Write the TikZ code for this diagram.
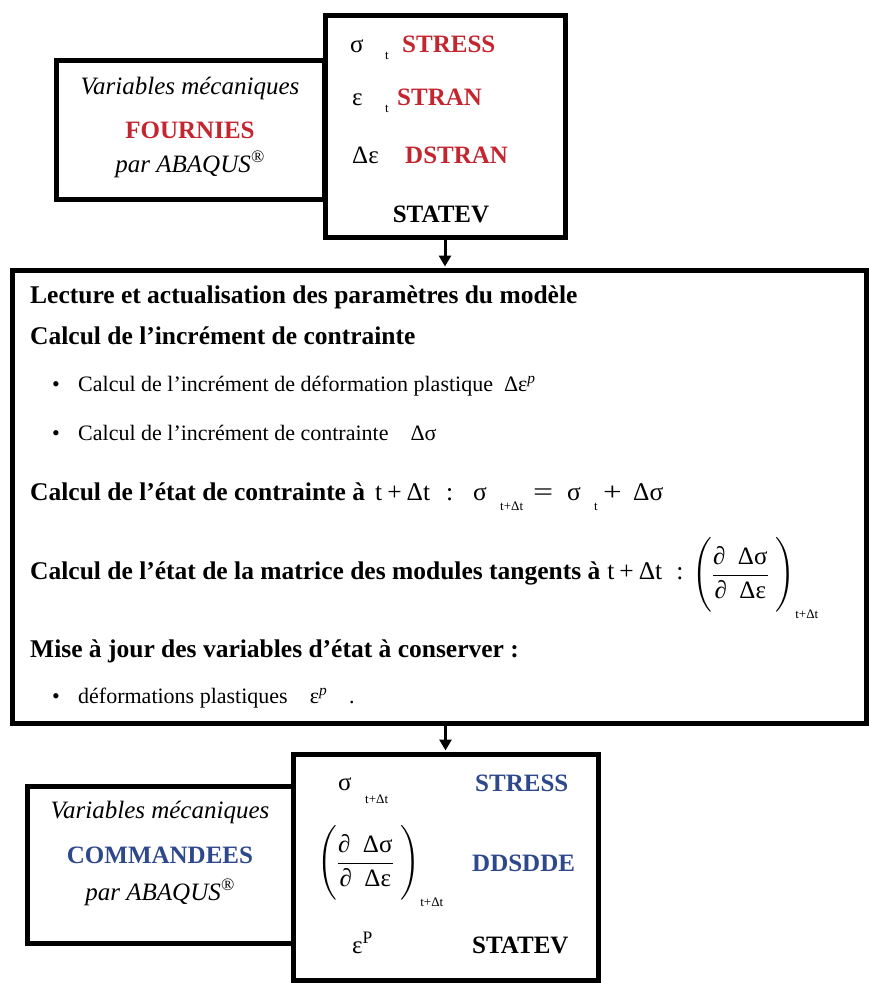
\documentclass[tikz,border=0pt]{standalone}
\usepackage{fontspec}
\usepackage{amsmath}
\usepackage{graphicx}
\setmainfont{Liberation Serif}
\usetikzlibrary{arrows.meta}
\definecolor{fred}{RGB}{196,38,48}
\definecolor{cblue}{RGB}{46,72,140}
\newcommand{\sz}[1]{\fontsize{#1}{#1}\selectfont}
\newcommand{\pfrac}{$\delimiterfactor=1000\delimitershortfall=-8pt\left(\genfrac{}{}{0.8pt}{0}{\text{\rule[-2pt]{0pt}{18pt}∂\enspace Δσ}}{\text{\rule[-2pt]{0pt}{22pt}∂\enspace Δε}}\;\right)_{\raisebox{-5pt}{\sz{13}t+Δt}}$}
\begin{document}
\begin{tikzpicture}[x=1pt,y=-1pt,
  frame/.style={draw=black, line width=5pt, inner sep=0pt},
  conn/.style={draw=black, line width=3pt, -{Triangle[length=11pt,width=12pt]}, shorten >=1pt},
  lbl/.style={anchor=base west, inner sep=0pt, font=\sz{25}},
  ctr/.style={anchor=base, inner sep=0pt, font=\sz{25}},
  redb/.style={font=\sz{25}\bfseries, text=fred},
  blueb/.style={font=\sz{25}\bfseries, text=cblue},
  hd/.style={anchor=base west, inner sep=0pt, font=\sz{25.5}\bfseries},
  bt/.style={anchor=base west, inner sep=0pt, font=\sz{22}},
  mt/.style={anchor=base west, inner sep=0pt, font=\sz{25.5}},
  sub/.style={anchor=base west, inner sep=0pt, font=\sz{13}}]
\fill[white] (0,0) rectangle (869,983);
\useasboundingbox (0,0) rectangle (869,983);

% boxes
\node[frame, minimum width=268pt, minimum height=139pt] (tl) at (190,129.5) {};
\node[frame, minimum width=240pt, minimum height=222pt] (tr) at (445,126) {};
\node[frame, minimum width=854pt, minimum height=453pt] (main) at (439,496.5) {};
\node[frame, minimum width=266pt, minimum height=157pt] (bl) at (160,864.5) {};
\node[frame, minimum width=305pt, minimum height=226pt] (br) at (445.5,867) {};

% connectors
\draw[conn] (tr.south) -- (tr.south |- main.north);
\draw[conn] (br.north |- main.south) -- (br.north);

% top-left box
\node[ctr, font=\sz{25}\itshape] (tlA) at (190,94) {Variables mécaniques};
\node[ctr, redb] (tlB) at (190,138) {FOURNIES};
\node[ctr, font=\sz{25}\itshape] (tlC) at (190,172) {par ABAQUS\textsuperscript{®}};

% top-right box
\node[lbl] (s1) at (350,52) {σ};
\node[sub] (s1t) at (385,59) {t};
\node[lbl, redb] (s1n) at (402,52) {STRESS};
\node[lbl] (e1) at (352,105) {ε};
\node[sub] (e1t) at (385,112) {t};
\node[lbl, redb] (e1n) at (397,105) {STRAN};
\node[lbl] (d1) at (352,163) {Δε};
\node[lbl, redb] (d1n) at (405,163) {DSTRAN};
\node[ctr, font=\sz{25}\bfseries] (v1n) at (441,222) {STATEV};

% main box
\node[hd] (m1) at (30,303) {Lecture et actualisation des paramètres du modèle};
\node[hd] (m2) at (30,344) {Calcul de l’incrément de contrainte};
\node[bt] (b1) at (52,391) {•};
\node[bt] (m3) at (78,391) {Calcul de l’incrément de déformation plastique\enspace Δε\textsuperscript{\itshape p}};
\node[bt] (b2) at (52,440) {•};
\node[bt] (m4) at (78,440) {Calcul de l’incrément de contrainte\quad Δσ};
\node[hd] (m5) at (30,500) {Calcul de l’état de contrainte à\hspace{10pt}{\mdseries t\hspace{5pt}+\hspace{5pt}Δt\hspace{16pt}:}};
\node[mt] (q1) at (473,500) {σ};
\node[sub] (q1t) at (500,510) {t+Δt};
\node[mt] (q2) at (533,500) {\scalebox{1.4}[1]{=}};
\node[mt] (q3) at (567,500) {σ};
\node[sub] (q3t) at (594,510) {t};
\node[mt] (q4) at (603,500) {\scalebox{1.3}[1]{+}};
\node[mt] (q5) at (633,500) {Δσ};
\node[hd] (m6) at (30,579) {Calcul de l’état de la matrice des modules tangents à\hspace{7pt}{\mdseries t\hspace{5pt}+\hspace{5pt}Δt\hspace{14pt}:}};
\node[anchor=west, inner sep=0pt, font=\sz{25}] (m6f) at (692,578) {\pfrac};
\node[hd] (m7) at (30,657) {Mise à jour des variables d’état à conserver :};
\node[bt] (b3) at (52,703) {•};
\node[bt] (m8) at (78,703) {déformations plastiques\quad ε\textsuperscript{\itshape p}\quad .};

% bottom-left box
\node[ctr, font=\sz{25}\itshape] (blA) at (160,818) {Variables mécaniques};
\node[ctr, blueb] (blB) at (160,863) {COMMANDEES};
\node[ctr, font=\sz{25}\itshape] (blC) at (160,900) {par ABAQUS\textsuperscript{®}};

% bottom-right box
\node[lbl] (s2) at (338,790) {σ};
\node[sub] (s2t) at (365,803) {t+Δt};
\node[lbl, blueb] (s2n) at (475,791) {STRESS};
\node[anchor=west, inner sep=0pt, font=\sz{25}] (f2) at (317,866) {\pfrac};
\node[lbl, blueb] (f2n) at (472,871) {DDSDDE};
\node[lbl] (p2) at (352,953) {ε\textsuperscript{P}};
\node[lbl, font=\sz{25}\bfseries] (p2n) at (472,953) {STATEV};
\end{tikzpicture}
\end{document}
